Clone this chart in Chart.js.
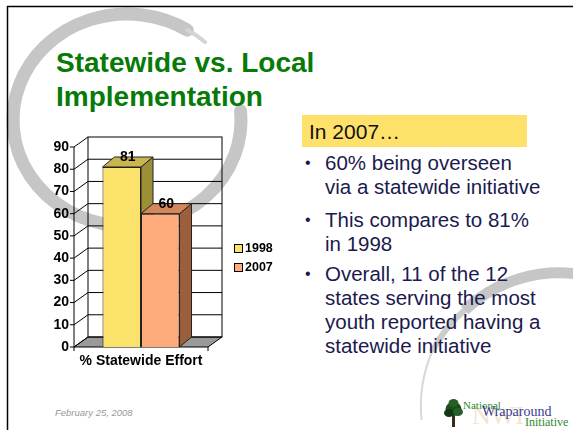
<!DOCTYPE html>
<html>
<head>
<meta charset="utf-8">
<script src="https://cdn.jsdelivr.net/npm/chart.js@4.4.1/dist/chart.umd.min.js"></script>
<style>
  html, body { margin: 0; padding: 0; background: #fff; }
  #slide { position: relative; width: 573px; height: 430px; overflow: hidden; font-family: "Liberation Sans", Arial, sans-serif; }
  #slide svg.bg { position: absolute; left: 0; top: 0; }
  .title { position: absolute; left: 56px; color: #077a07; font-weight: bold; font-size: 28px; line-height: 34px; white-space: nowrap; }
  #chart { position: absolute; left: 40px; top: 125px; }
  .box { position: absolute; left: 302px; top: 115px; width: 218px; height: 30px; padding: 2px 0 0 7px; background: #fde16b; font-size: 21px; line-height: 30px; color: #111; }
  .para { position: absolute; left: 325px; font-size: 20.5px; line-height: 24px; color: #1b1a4e; white-space: nowrap; }
  .para::before { content: "\2022"; position: absolute; left: -20px; font-size: 16px; }
  .date { position: absolute; left: 55px; top: 407px; font-size: 9.5px; font-style: italic; color: #9a9a9a; }
  .logo { position: absolute; font-family: "Liberation Serif", "DejaVu Serif", serif; white-space: nowrap; }
</style>
</head>
<body>
<div id="slide">
  <svg class="bg" width="573" height="430">
    <path d="M 240.6 110.8 A 114 106 0 1 1 187.4 30.1" fill="none" stroke="#c6c6c6" stroke-width="13" stroke-linecap="round"/>
    <path d="M 187.4 30.1 A 114 106 0 0 1 205 42" fill="none" stroke="#d4d4d4" stroke-width="4" stroke-linecap="round"/>
    <path d="M 464.6 310.1 A 139 139 0 0 1 584.1 275.1" fill="none" stroke="#c6c6c6" stroke-width="11"/>
    <path d="M 432 352 A 139 139 0 0 1 464.6 310.1" fill="none" stroke="#cccccc" stroke-width="6"/>
    <path d="M 421.5 420 A 139 139 0 0 1 432 352" fill="none" stroke="#d8d8d8" stroke-width="2"/>
    <line x1="7" y1="6.5" x2="573" y2="6.5" stroke="#000" stroke-width="1.5"/>
    <line x1="7.5" y1="6" x2="7.5" y2="430" stroke="#000" stroke-width="1.5"/>
    <!-- logo tree -->
    <rect x="452" y="414" width="3" height="13" fill="#3a2a1a"/>
    <ellipse cx="453.5" cy="409" rx="8" ry="7" fill="#1d4d1d"/>
    <ellipse cx="449" cy="413" rx="5" ry="4" fill="#123812"/>
    <ellipse cx="458" cy="412" rx="5" ry="4" fill="#2a5f2a"/>
    <ellipse cx="453.5" cy="403" rx="5" ry="4" fill="#256025"/>
  </svg>

  <div class="title" style="top:46px">Statewide vs. Local</div>
  <div class="title" style="top:80px">Implementation</div>

  <canvas id="chart" width="250" height="250"></canvas>

  <div class="box">In 2007…</div>
  <div class="para" style="top:151px">60% being overseen<br>via a statewide initiative</div>
  <div class="para" style="top:208px">This compares to 81%<br>in 1998</div>
  <div class="para" style="top:262px">Overall, 11 of the 12<br>states serving the most<br>youth reported having a<br>statewide initiative</div>

  <div class="date">February 25, 2008</div>
  <div class="logo" style="left:472px;top:401px;font-size:26px;color:#f0e6d2;">NWI</div>
  <div class="logo" style="left:463px;top:399px;font-size:11px;color:#2d8a2d;">National</div>
  <div class="logo" style="left:482px;top:404px;font-size:14px;color:#3b3b8f;">Wraparound</div>
  <div class="logo" style="left:525px;top:415px;font-size:12px;color:#2d8a2d;">Initiative</div>
</div>

<script>
const categories = ["% Statewide Effort"];
const seriesNames = ["1998", "2007"];
const values1998 = [81];
const values2007 = [60];
const yMin = 0;
const yMax = 90;
const yStep = 10;

const frontColors = ["#fbe36b", "#ffaa7a"];
const topColors = ["#cab64f", "#d4875a"];
const sideColors = ["#9c8f38", "#9b5f3c"];
const FONT = "'Liberation Sans', Arial, sans-serif";

function line(ctx, x1, y1, x2, y2) {
  ctx.beginPath();
  ctx.moveTo(x1, y1);
  ctx.lineTo(x2, y2);
  ctx.stroke();
}

function poly(ctx, pts, fill) {
  ctx.beginPath();
  ctx.moveTo(pts[0][0], pts[0][1]);
  for (let i = 1; i < pts.length; i++) ctx.lineTo(pts[i][0], pts[i][1]);
  ctx.closePath();
  ctx.fillStyle = fill;
  ctx.fill();
  ctx.stroke();
}

// walls, floor, grid and the sides/tops of the bars
const depth3d = {
  id: "depth3d",
  beforeDatasetsDraw(chart) {
    const { ctx, chartArea: a, scales: { y } } = chart;
    const wx = 14, wy = 10, bx = 12, by = 10;
    ctx.save();
    ctx.lineWidth = 1;
    ctx.strokeStyle = "#000";

    poly(ctx, [[a.left, a.bottom], [a.right, a.bottom], [a.right + wx, a.bottom - wy], [a.left + wx, a.bottom - wy]], "#9a9a9a");
    ctx.strokeRect(a.left + wx, a.top - wy, a.right - a.left, a.bottom - a.top);

    y.ticks.forEach(t => {
      const py = y.getPixelForValue(t.value);
      line(ctx, a.left, py, a.left + wx, py - wy);
      line(ctx, a.left - 4, py, a.left, py);
      if (t.value > yMin && t.value < yMax) line(ctx, a.left + wx, py - wy, a.right + wx, py - wy);
    });
    line(ctx, a.left, a.bottom, a.left, a.top);
    line(ctx, a.left, a.bottom, a.left, a.bottom + 4);
    line(ctx, a.right, a.bottom, a.right, a.bottom + 4);

    ctx.strokeStyle = "#222";
    chart.data.datasets.forEach((ds, i) => {
      chart.getDatasetMeta(i).data.forEach(bar => {
        const p = bar.getProps(["x", "y", "base", "width"], true);
        const l = p.x - p.width / 2, r = p.x + p.width / 2;
        poly(ctx, [[r, p.y], [r + bx, p.y - by], [r + bx, p.base - by], [r, p.base]], sideColors[i]);
        poly(ctx, [[l, p.y], [r, p.y], [r + bx, p.y - by], [l + bx, p.y - by]], topColors[i]);
      });
    });
    ctx.restore();
  },
  afterDatasetsDraw(chart) {
    const { ctx } = chart;
    ctx.save();
    ctx.font = "bold 14px " + FONT;
    ctx.fillStyle = "#000";
    ctx.textAlign = "center";
    ctx.textBaseline = "middle";
    chart.data.datasets.forEach((ds, i) => {
      chart.getDatasetMeta(i).data.forEach((bar, j) => {
        const p = bar.getProps(["x", "y"], true);
        ctx.fillText(String(ds.data[j]), p.x + 6, p.y - 9.5);
      });
    });
    ctx.restore();
  },
  afterDraw(chart) {
    const { ctx } = chart;
    ctx.save();
    ctx.font = "bold 12.5px " + FONT;
    ctx.textBaseline = "middle";
    ctx.lineWidth = 1;
    chart.data.datasets.forEach((ds, i) => {
      const cy = 123.5 + i * 19;
      ctx.fillStyle = ds.backgroundColor;
      ctx.fillRect(194.5, cy - 4, 8, 8);
      ctx.strokeStyle = "#000";
      ctx.strokeRect(194.5, cy - 4, 8, 8);
      ctx.fillStyle = "#000";
      ctx.fillText(ds.label, 205, cy + 0.5);
    });
    ctx.restore();
  }
};

new Chart(document.getElementById("chart"), {
  type: "bar",
  data: {
    labels: categories,
    datasets: [
      { label: seriesNames[0], data: values1998, backgroundColor: frontColors[0], borderColor: "#222", borderWidth: 1 },
      { label: seriesNames[1], data: values2007, backgroundColor: frontColors[1], borderColor: "#222", borderWidth: 1 },
    ],
  },
  options: {
    responsive: false,
    animation: false,
    layout: { padding: { top: 22, right: 82, left: 0, bottom: 0 } },
    datasets: { bar: { categoryPercentage: 0.575, barPercentage: 1 } },
    plugins: { legend: { display: false }, tooltip: { enabled: false } },
    scales: {
      x: {
        grid: { display: false, drawTicks: false },
        border: { display: false },
        ticks: { padding: 6, color: "#000", font: { family: FONT, size: 14, weight: "bold" } },
        afterFit(s) { s.height = 28; },
      },
      y: {
        min: yMin,
        max: yMax,
        grid: { display: false, drawTicks: false },
        border: { display: false },
        ticks: { stepSize: yStep, padding: 5, color: "#000", font: { family: FONT, size: 14, weight: "bold" } },
        afterFit(s) { s.width = 34; },
      },
    },
  },
  plugins: [depth3d],
});
</script>
</body>
</html>
